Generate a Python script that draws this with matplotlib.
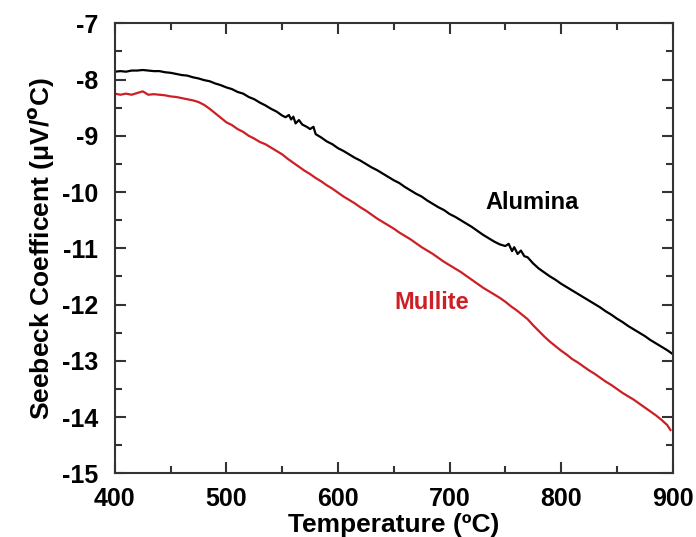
import matplotlib
matplotlib.use("Agg")
import matplotlib.pyplot as plt
from matplotlib.ticker import MultipleLocator

plt.rcParams['font.family'] = ['Liberation Sans', 'DejaVu Sans']

# Alumina (black)
alumina_T = [400, 405, 410, 415, 420, 425, 430, 435, 440, 445, 450, 455, 460, 465, 470, 475, 480, 485, 490, 495,
             500, 505, 510, 515, 520, 525, 530, 535, 540, 545,
             550, 553, 556, 558, 560, 562, 565, 568, 572, 575, 578, 580, 585, 590, 595, 600, 605, 610, 615,
             620, 625, 630, 635, 640, 645, 650, 655, 660, 665, 670, 675, 680, 685, 690, 695, 700, 705, 710, 715,
             720, 725, 730, 735, 740, 745, 750,
             753, 756, 758, 761, 764, 767, 770, 775, 780, 785, 790, 795, 800, 805, 810, 815, 820, 825, 830, 835, 840,
             845, 850, 855, 860, 865, 870, 875, 880, 885, 890, 895, 900]
alumina_S = [-7.86, -7.85, -7.86, -7.84, -7.84, -7.83, -7.84, -7.85, -7.85, -7.87, -7.88, -7.90, -7.92, -7.93, -7.96, -7.98, -8.01, -8.03, -8.07, -8.10,
             -8.14, -8.17, -8.22, -8.25, -8.31, -8.35, -8.41, -8.46, -8.52, -8.57,
             -8.64, -8.67, -8.63, -8.71, -8.66, -8.78, -8.72, -8.80, -8.84, -8.88, -8.84, -8.97, -9.03, -9.10, -9.15, -9.22, -9.27, -9.33, -9.39,
             -9.44, -9.50, -9.56, -9.61, -9.67, -9.73, -9.79, -9.84, -9.91, -9.97, -10.03, -10.08, -10.15, -10.21, -10.27, -10.32, -10.39, -10.44, -10.50, -10.56,
             -10.62, -10.69, -10.76, -10.82, -10.88, -10.93, -10.96,
             -10.92, -11.05, -10.98, -11.10, -11.04, -11.14, -11.16, -11.27, -11.36, -11.43, -11.50, -11.56, -11.63, -11.69, -11.75, -11.81, -11.87, -11.93, -11.99, -12.05, -12.12,
             -12.18, -12.25, -12.31, -12.38, -12.44, -12.50, -12.56, -12.63, -12.69, -12.75, -12.81, -12.88]

# Mullite (red)
mullite_T = [400, 405, 410, 415, 420, 425, 430, 435, 440, 445, 450, 455, 460, 465, 470, 475, 480, 485, 490, 495,
             500, 505, 510, 515, 520, 525, 530, 535, 540, 545, 550, 555, 560, 565, 570, 575, 580, 585, 590, 595,
             600, 605, 610, 615, 620, 625, 630, 635, 640, 645, 650, 655, 660, 665, 670, 675, 680, 685, 690, 695,
             700, 705, 710, 715, 720, 725, 730, 735, 740, 745, 750, 755, 760, 765, 770, 775, 780, 785, 790, 795,
             800, 805, 810, 815, 820, 825, 830, 835, 840, 845, 850, 855, 860, 865, 870, 875, 880, 885, 890, 895, 898]
mullite_S = [-8.25, -8.27, -8.25, -8.27, -8.24, -8.21, -8.27, -8.26, -8.27, -8.28, -8.30, -8.31, -8.33, -8.35, -8.37, -8.40, -8.45, -8.52, -8.60, -8.68,
             -8.76, -8.81, -8.88, -8.93, -9.00, -9.05, -9.11, -9.15, -9.21, -9.27, -9.33, -9.41, -9.48, -9.55, -9.62, -9.68, -9.75, -9.81, -9.88, -9.94,
             -10.01, -10.08, -10.14, -10.20, -10.27, -10.33, -10.40, -10.47, -10.53, -10.59, -10.65, -10.72, -10.78, -10.84, -10.91, -10.98, -11.04, -11.10, -11.17, -11.24,
             -11.30, -11.36, -11.42, -11.49, -11.56, -11.63, -11.70, -11.76, -11.82, -11.88, -11.95, -12.03, -12.10, -12.18, -12.26, -12.37, -12.47, -12.57, -12.66, -12.74,
             -12.82, -12.89, -12.97, -13.03, -13.10, -13.17, -13.23, -13.30, -13.37, -13.43, -13.50, -13.57, -13.63, -13.69, -13.76, -13.83, -13.90, -13.97, -14.05, -14.14, -14.23]

xticks = [400, 500, 600, 700, 800, 900]
yticks = [-15, -14, -13, -12, -11, -10, -9, -8, -7]

fig = plt.figure(figsize=(6.96, 5.37), dpi=100)
ax = fig.add_axes([0.165, 0.1186, 0.8015, 0.838])

ax.plot(alumina_T, alumina_S, color='black', lw=1.6)
ax.plot(mullite_T, mullite_S, color='#cc1f26', lw=1.6)

ax.set_xlim(400, 900)
ax.set_ylim(-15, -7)
ax.set_xticks(xticks)
ax.set_yticks(yticks)
ax.set_xticklabels([str(t) for t in xticks])
ax.set_yticklabels([str(t) for t in yticks])
ax.xaxis.set_minor_locator(MultipleLocator(50))
ax.yaxis.set_minor_locator(MultipleLocator(0.5))

ax.tick_params(which='both', direction='in', top=True, right=True, color='#333333', width=1.5)
ax.tick_params(which='major', length=8)
ax.tick_params(which='minor', length=5)
ax.tick_params(axis='x', which='major', pad=10, labelsize=18)
ax.tick_params(axis='y', which='major', pad=12, labelsize=18)
for lab in ax.get_xticklabels() + ax.get_yticklabels():
    lab.set_fontweight('bold')

for sp in ax.spines.values():
    sp.set_linewidth(1.5)
    sp.set_color('#333333')

ax.set_xlabel('Temperature (ºC)', fontsize=19, fontweight='bold', labelpad=1)
ax.set_ylabel('Seebeck Coefficent (μV/$^{\\mathbf{o}}$C)', fontsize=19, fontweight='bold', labelpad=4)

ax.text(774, -10.19, 'Alumina', color='black', fontsize=17, fontweight='bold', ha='center', va='center')
ax.text(684, -11.97, 'Mullite', color='#cc1f26', fontsize=17, fontweight='bold', ha='center', va='center')

fig.savefig('out.png', dpi=100)
